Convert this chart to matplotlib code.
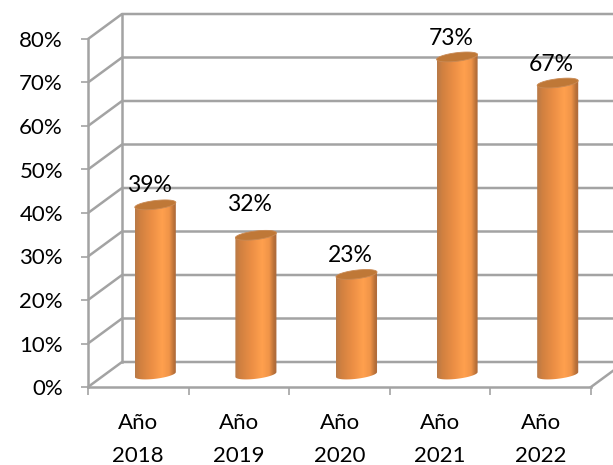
import numpy as np
import matplotlib
matplotlib.use("Agg")
import matplotlib.pyplot as plt
from matplotlib.colors import LinearSegmentedColormap
from matplotlib.patches import PathPatch
from matplotlib.path import Path

# Data
years = ["Año\n2018", "Año\n2019", "Año\n2020", "Año\n2021", "Año\n2022"]
values = [39, 32, 23, 73, 67]
yticks = list(range(0, 90, 10))
label_lift = [14, 22.5, 14, 13.5, 13.5]

GRID = "#a3a3a3"
plt.rcParams['font.family'] = ['Lato', 'DejaVu Sans']

fig = plt.figure(figsize=(6.13, 4.65), dpi=100)
ax = fig.add_axes([88/613, 1-387/465, (591-88)/613, (387-39)/465])
ax.set_xlim(0, 5)
ax.set_ylim(0, 80)

# 3d depth of the box, in data units
dx = 34/100.6
dy = 25/4.35

# Walls
for v in yticks:
    ax.plot([0, dx, 5+dx*2], [v, v+dy, v+dy], color=GRID, lw=1.8,
            clip_on=False, zorder=1, solid_capstyle='butt')
ax.plot([dx, dx], [dy, 80+dy], color=GRID, lw=1.8, clip_on=False, zorder=1)
ax.plot([5, 5+dx], [0, dy], color=GRID, lw=1.8, clip_on=False, zorder=1)

# Cylinders
cmap = LinearSegmentedColormap.from_list("cyl", [
    (0.0, "#b87a48"), (0.12, "#d08040"), (0.4, "#ec8f45"),
    (0.65, "#ffa04e"), (0.82, "#f09448"), (0.93, "#b97038"), (1.0, "#a96a3e")])
grad = np.linspace(0, 1, 128).reshape(1, -1)
half_w = 0.204
b = 4.3/4.35
tilt = 2.4/4.35

t = np.linspace(0, 2*np.pi, 80)
for i, val in enumerate(values):
    cx = i + 0.5 + dx/2
    base = dy/2
    top = val + dy/2
    # body: bottom half of the lower ellipse, back along the top
    t1 = np.linspace(np.pi, 2*np.pi, 40)
    xs = np.concatenate([cx + half_w*np.cos(t1), [cx+half_w, cx-half_w]])
    ys = np.concatenate([base + b*np.sin(t1) + tilt*np.cos(t1), [top+tilt*0.9, top-tilt*0.9]])
    im = ax.imshow(grad, cmap=cmap, extent=[cx-half_w, cx+half_w, base-5, top+2],
                   aspect='auto', zorder=3, interpolation='bilinear')
    clip = PathPatch(Path(np.column_stack([xs, ys])), transform=ax.transData, fc='none', ec='none')
    ax.add_patch(clip)
    im.set_clip_path(clip)
    # cap
    ax.fill(cx + half_w*np.cos(t), top + b*np.sin(t) + tilt*np.cos(t),
            color="#bf7837", ec="#c98a55", lw=0.6, zorder=4)
    ax.annotate(f"{val}%", (cx, top), xytext=(-4.5, label_lift[i]), textcoords='offset points',
                ha='center', va='center', fontsize=16.5, color='black', zorder=5,
                annotation_clip=False)

ax.set_xlim(0, 5)
ax.set_ylim(0, 80)

# Axes
for side in ['top', 'right']:
    ax.spines[side].set_visible(False)
for side in ['left', 'bottom']:
    ax.spines[side].set_color(GRID)
    ax.spines[side].set_linewidth(1.8)
ax.set_yticks(yticks, labels=[f"{v}%" for v in yticks])
ax.set_xticks(range(6))
ax.set_xticklabels([])
ax.set_xticks(np.arange(5)+0.5, labels=years, minor=True)
ax.tick_params(axis='x', which='minor', length=0, labelsize=16, pad=19, labelcolor='black')
ax.tick_params(axis='x', which='major', length=6, width=1.2, color=GRID)
ax.tick_params(axis='y', length=5, width=1.2, color=GRID, labelsize=16, pad=13)
for lab in ax.get_xticklabels(minor=True):
    lab.set_linespacing(1.8)

fig.savefig("out.png", dpi=100)
